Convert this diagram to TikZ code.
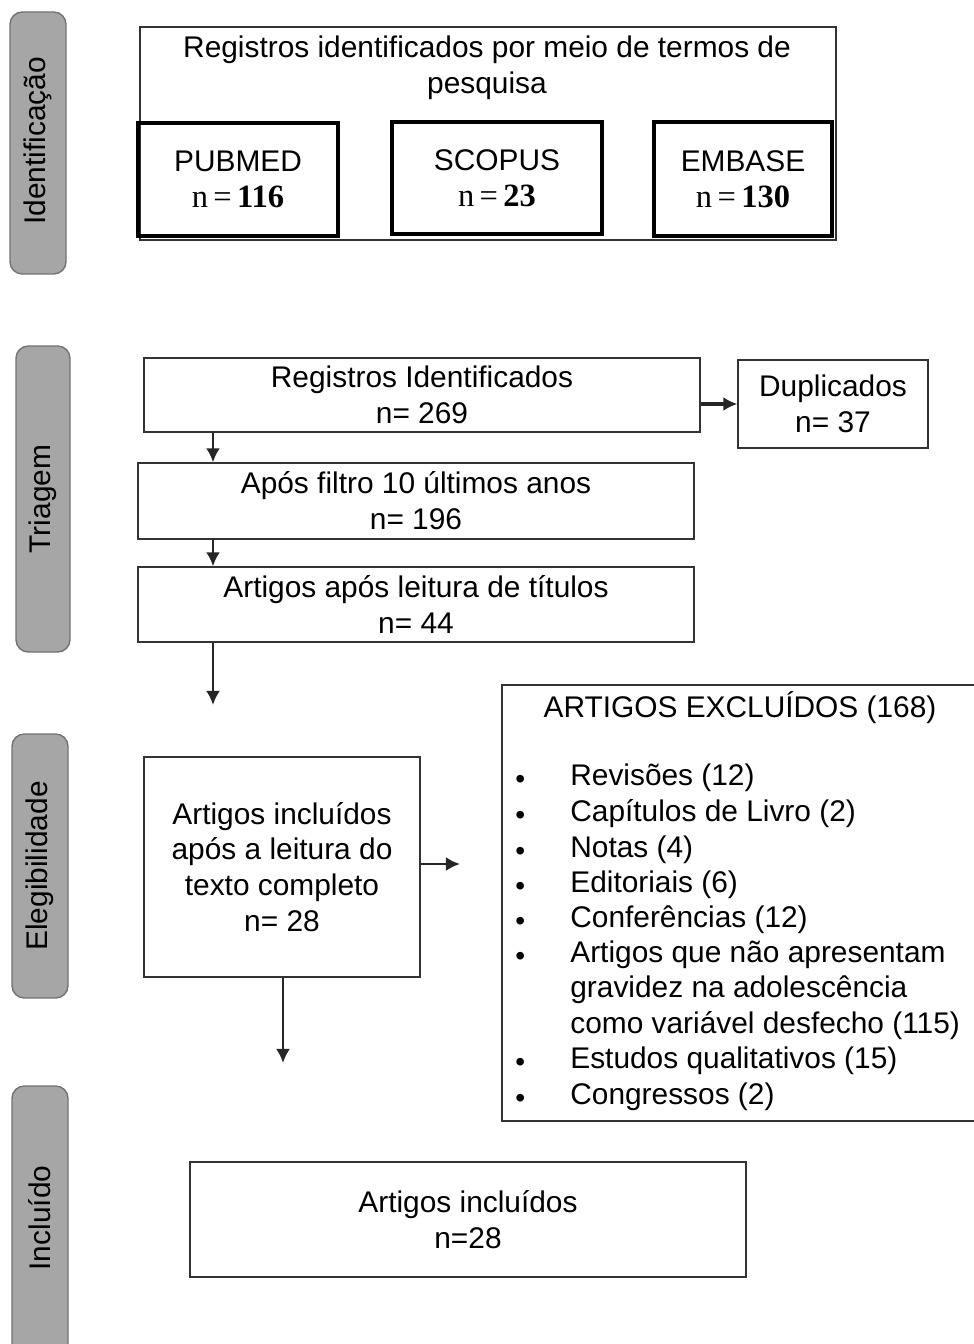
\documentclass[tikz,border=0pt]{standalone}
\usepackage{fontspec}
\setmainfont{Liberation Sans}
\newfontfamily\numfont{Liberation Serif}
\usetikzlibrary{fit,arrows.meta}
\tikzset{
  txt/.style={inner sep=0pt, align=center, font=\fontsize{17}{20.4}\selectfont},
  box/.style={txt, draw=black!80, line width=0.75pt},
  dbbox/.style={box, draw=black, line width=2pt},
  phase/.style={draw=black!55, fill=black!35, rounded corners=7pt, line width=0.8pt},
  phasetxt/.style={txt, rotate=90},
  item/.style={txt, anchor=west, align=left, text height=12.5pt, text depth=3.5pt},
  flow/.style={draw=black!85, line width=1.5pt, -{Latex[length=8pt,width=8pt]}},
  bigflow/.style={flow, line width=2.2pt}
}
\newcommand{\bul}{\makebox[1.1cm][l]{\raisebox{-1.5pt}{\fontsize{16}{16}\selectfont\textbullet}}}
\newcommand{\dbn}[1]{{\numfont\fontsize{18.5}{20.4}\selectfont n\,=\,\textbf{#1}}}

\begin{document}
\begin{tikzpicture}[x=0.02cm, y=-0.02cm]
		%%%%% START %%%%%
		\useasboundingbox (0,0) rectangle (973,1344);
		
		\draw[phase] (10,12) rectangle (66,274);
		\node[phasetxt] (pid) at (38,141) {Identificação};
		\draw[phase] (16,346) rectangle (70,652);
		\node[phasetxt] (ptri) at (43,499) {Triagem};
		\draw[phase] (12,734) rectangle (68,998);
		\node[phasetxt] (pele) at (40,866) {Elegibilidade};
		\draw[phase] (12,1086) rectangle (68,1360);
		\node[phasetxt] (pinc) at (40,1218) {Incluído};
		
		% identificacao
		\node[box, fit={(140,27) (836,240)}] (ident) {};
		\node[txt] (identtxt) at (487,68) {Registros identificados por meio de termos de\\pesquisa};
		\node[dbbox, minimum width=4cm, minimum height=2.26cm] (pubmed) at (238,179.5) {PUBMED\\\dbn{116}};
		\node[dbbox, minimum width=4.2cm, minimum height=2.24cm] (scopus) at (497,178) {SCOPUS\\\dbn{23}};
		\node[dbbox, minimum width=3.56cm, minimum height=2.28cm] (embase) at (743,179) {EMBASE\\\dbn{130}};
		
		% triagem
		\node[box, minimum width=11.12cm, minimum height=1.48cm] (regid) at (422,395) {Registros Identificados\\n= 269};
		\node[box, minimum width=3.8cm, minimum height=1.76cm] (dup) at (833,404) {Duplicados\\n= 37};
		\node[box, minimum width=11.12cm, minimum height=1.52cm] (filt) at (416,501) {Após filtro 10 últimos anos\\n= 196};
		\node[box, minimum width=11.12cm, minimum height=1.5cm] (titl) at (416,604.5) {Artigos após leitura de títulos\\n= 44};
		
		\coordinate (col) at (213,0);
		\coordinate (elgtop) at (213,705);
		\draw[bigflow] (regid.east |- dup.west) -- (dup.west);
		\draw[flow] (regid.south -| col) -- (filt.north -| col);
		\draw[flow] (filt.south -| col) -- (titl.north -| col);
		\draw[flow] (titl.south -| col) -- (elgtop);
		
		% elegibilidade
		\node[box, minimum width=5.52cm, minimum height=4.4cm] (incl) at (282,867) {Artigos incluídos\\após a leitura do\\texto completo\\n= 28};
		\node[box, fit={(502,685) (990,1121)}] (excl) {};
		\node[txt] (extitle) at (740,708) {ARTIGOS EXCLUÍDOS (168)};
		\node[item] (ex1) at (515,778) {\bul Revisões (12)};
		\node[item] (ex2) at (515,814) {\bul Capítulos de Livro (2)};
		\node[item] (ex3) at (515,850) {\bul Notas (4)};
		\node[item] (ex4) at (515,885) {\bul Editoriais (6)};
		\node[item] (ex5) at (515,920) {\bul Conferências (12)};
		\node[item] (ex6) at (515,955) {\bul Artigos que não apresentam};
		\node[item] (ex7) at (570,990) {gravidez na adolescência};
		\node[item] (ex8) at (570,1026) {como variável desfecho (115)};
		\node[item] (ex9) at (515,1061) {\bul Estudos qualitativos (15)};
		\node[item] (ex10) at (515,1097) {\bul Congressos (2)};
		
		\coordinate (exarrow) at (460,864);
		\coordinate (incarrow) at (283,1063);
		\draw[flow] (incl.east |- exarrow) -- (exarrow);
		\draw[flow] (incl.south -| incarrow) -- (incarrow);
		
		% incluido
		\node[box, minimum width=11.12cm, minimum height=2.3cm] (final) at (468,1219.5) {Artigos incluídos\\n=28};
		
		%%%%% END %%%%%
	\end{tikzpicture}
\end{document}
